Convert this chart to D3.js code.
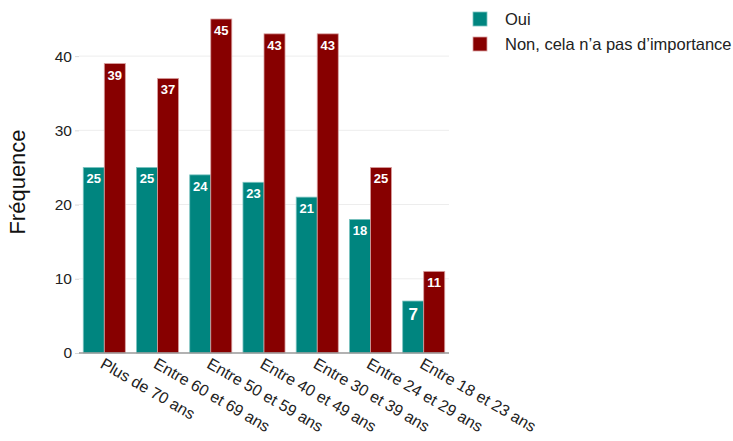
<!DOCTYPE html>
<html>
<head>
<meta charset="utf-8">
<script src="https://cdn.jsdelivr.net/npm/d3@7"></script>
<style>
  body { margin: 0; background: #fff; }
  svg { font-family: "Liberation Sans", Arial, sans-serif; }
</style>
</head>
<body>
<svg id="chart" width="733" height="441"></svg>
<script>
// Age groups and answer counts
const categories = ["Plus de 70 ans", "Entre 60 et 69 ans", "Entre 50 et 59 ans",
  "Entre 40 et 49 ans", "Entre 30 et 39 ans", "Entre 24 et 29 ans", "Entre 18 et 23 ans"];
const seriesNames = ["Oui", "Non, cela n’a pas d’importance"];
const ouiValues = [25, 25, 24, 23, 21, 18, 7];
const nonValues = [39, 37, 45, 43, 43, 25, 11];
const yTicks = [0, 10, 20, 30, 40];
const colors = ["#00857f", "#870000"];
const strokes = ["#7cc4c1", "#d9a0a0"];

const svg = d3.select("#chart");
const margin = { left: 79, right: 284, top: 19, bottom: 88 };
const width = 733 - margin.left - margin.right;
const height = 441 - margin.top - margin.bottom;

const g = svg.append("g").attr("transform", `translate(${margin.left},${margin.top})`);

const x0 = d3.scaleBand().domain(categories).range([0, width]).paddingInner(0.21).paddingOuter(0.08);
const x1 = d3.scaleBand().domain(seriesNames).range([0, x0.bandwidth()]);
const y = d3.scaleLinear().domain([0, 45]).range([height, 0]);

// Horizontal grid lines
g.append("g").selectAll("line").data(yTicks.filter(t => t > 0)).join("line")
  .attr("x1", 0).attr("x2", width)
  .attr("y1", d => y(d)).attr("y2", d => y(d))
  .attr("stroke", "#ededed").attr("stroke-width", 1);

// Y axis with short tick marks
const yAxis = g.append("g").call(d3.axisLeft(y).tickValues(yTicks).tickSize(4).tickPadding(3));
yAxis.select(".domain").remove();
yAxis.selectAll("line").attr("stroke", "#d8d8d8");
yAxis.selectAll("text").attr("font-size", 15.5).attr("fill", "#222");

const rows = categories.map((c, i) => ({ cat: c, vals: [ouiValues[i], nonValues[i]] }));

const groups = g.append("g").selectAll("g").data(rows).join("g")
  .attr("transform", d => `translate(${x0(d.cat)},0)`);

groups.selectAll("rect").data(d => d.vals.map((v, k) => ({ v, k }))).join("rect")
  .attr("x", d => x1(seriesNames[d.k]))
  .attr("width", x1.bandwidth())
  .attr("y", d => y(d.v))
  .attr("height", d => y(0) - y(d.v))
  .attr("fill", d => colors[d.k])
  .attr("stroke", d => strokes[d.k])
  .attr("stroke-width", 0.8);

groups.selectAll("text").data(d => d.vals.map((v, k) => ({ v, k }))).join("text")
  .attr("x", d => x1(seriesNames[d.k]) + x1.bandwidth() / 2)
  .attr("y", d => y(d.v) + (d.v < 10 ? 19 : 16))
  .attr("text-anchor", "middle")
  .attr("font-size", d => d.v < 10 ? 17 : 13)
  .attr("font-weight", "bold")
  .attr("fill", "#fff")
  .text(d => d.v);

// X axis baseline
g.append("line").attr("x1", 0).attr("x2", width)
  .attr("y1", y(0)).attr("y2", y(0))
  .attr("stroke", "#999").attr("stroke-width", 1.5);

// Rotated category labels
g.append("g").selectAll("text").data(categories).join("text")
  .attr("transform", d => `translate(${x0(d) + x0.bandwidth() / 2 - 5},${height + 14}) rotate(30)`)
  .attr("text-anchor", "start")
  .attr("font-size", 16)
  .attr("fill", "#222")
  .text(d => d);

// Y axis title
svg.append("text")
  .attr("transform", `translate(25,182) rotate(-90)`)
  .attr("text-anchor", "middle")
  .attr("font-size", 22)
  .attr("fill", "#111")
  .text("Fréquence");

// Legend
const legend = svg.append("g").attr("transform", "translate(473,12)");
seriesNames.forEach((name, i) => {
  legend.append("rect").attr("x", 0).attr("y", i * 25).attr("width", 14).attr("height", 14)
    .attr("fill", colors[i]).attr("stroke", strokes[i]).attr("stroke-width", 0.8);
  legend.append("text").attr("x", 32).attr("y", i * 25 + 13)
    .attr("font-size", 16.5).attr("fill", "#222").text(name);
});
</script>
</body>
</html>
